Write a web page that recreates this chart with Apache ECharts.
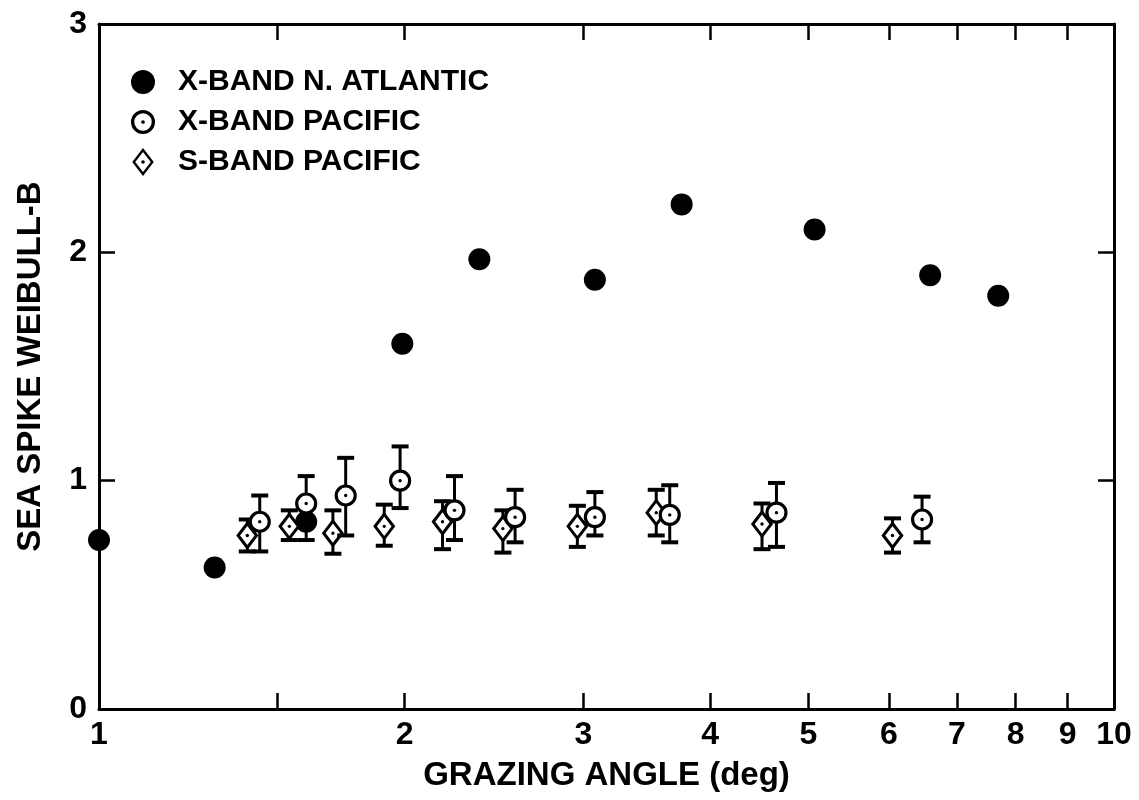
<!DOCTYPE html>
<html>
<head>
<meta charset="utf-8">
<script src="https://cdn.jsdelivr.net/npm/echarts@6/dist/echarts.min.js"></script>
<style>
html,body{margin:0;padding:0;background:#fff;}
#chart{width:1139px;height:800px;}
</style>
</head>
<body>
<div id="chart"></div>
<script>
// ---- data ----
const seriesNames = ['X-BAND N. ATLANTIC', 'X-BAND PACIFIC', 'S-BAND PACIFIC'];

const atlanticX = [1.0, 1.30, 1.60, 1.99, 2.37, 3.08, 3.75, 5.07, 6.59, 7.69];
const atlanticY = [0.74, 0.62, 0.82, 1.60, 1.97, 1.88, 2.21, 2.10, 1.90, 1.81];

const xPacX  = [1.44, 1.60, 1.75, 1.98, 2.24, 2.57, 3.08, 3.65, 4.65, 6.47];
const xPacY  = [0.82, 0.90, 0.935, 1.00, 0.87, 0.84, 0.84, 0.85, 0.86, 0.83];
const xPacHi = [0.935, 1.02, 1.10, 1.15, 1.02, 0.96, 0.95, 0.98, 0.99, 0.93];
const xPacLo = [0.69, 0.74, 0.76, 0.88, 0.74, 0.73, 0.76, 0.73, 0.71, 0.73];

const sPacX  = [1.40, 1.54, 1.70, 1.91, 2.18, 2.50, 2.96, 3.54, 4.50, 6.05];
const sPacY  = [0.76, 0.80, 0.77, 0.80, 0.82, 0.79, 0.80, 0.86, 0.81, 0.76];
const sPacHi = [0.83, 0.87, 0.87, 0.895, 0.91, 0.87, 0.89, 0.96, 0.90, 0.835];
const sPacLo = [0.69, 0.74, 0.68, 0.715, 0.70, 0.685, 0.71, 0.76, 0.70, 0.685];

const xTickValues  = [1.5, 2, 3, 4, 5, 6, 7, 8, 9];
const xLabelValues = [1, 2, 3, 4, 5, 6, 7, 8, 9, 10];
const xTitle = 'GRAZING ANGLE (deg)';
const yTitle = 'SEA SPIKE WEIBULL-B';

// ---- chart ----
const FONT = '"Liberation Sans", Arial, Helvetica, sans-serif';
const chart = echarts.init(document.getElementById('chart'), null, {renderer: 'canvas'});

const ringPath = 'path://M0,-11A11,11,0,1,1,0,11A11,11,0,1,1,0,-11Z' +
                 'M0,-8A8,8,0,1,0,0,8A8,8,0,1,0,0,-8Z' +
                 'M0,-1.7A1.7,1.7,0,1,1,0,1.7A1.7,1.7,0,1,1,0,-1.7Z';
const diamondPath = 'path://M0,-13L10,0L0,13L-10,0Z' +
                    'M0,-9.3L-7.2,0L0,9.3L7.2,0Z' +
                    'M0,-1.7A1.7,1.7,0,1,1,0,1.7A1.7,1.7,0,1,1,0,-1.7Z';

function errRender(kind) {
  return function (params, api) {
    const x = api.value(0), y = api.value(1), lo = api.value(2), hi = api.value(3);
    const c = api.coord([x, y]);
    const t = api.coord([x, hi]);
    const b = api.coord([x, lo]);
    const cap = 8.5;
    const children = [
      {type: 'line', shape: {x1: c[0], y1: t[1], x2: c[0], y2: b[1]}, style: {stroke: '#000', lineWidth: 3}},
      {type: 'line', shape: {x1: c[0] - cap, y1: t[1], x2: c[0] + cap, y2: t[1]}, style: {stroke: '#000', lineWidth: 4}},
      {type: 'line', shape: {x1: c[0] - cap, y1: b[1], x2: c[0] + cap, y2: b[1]}, style: {stroke: '#000', lineWidth: 4}}
    ];
    if (kind === 'circle') {
      children.push({type: 'circle', shape: {cx: c[0], cy: c[1], r: 9.5}, style: {fill: '#fff', stroke: '#000', lineWidth: 3.2}});
    } else {
      children.push({type: 'polygon', shape: {points: [[c[0], c[1] - 12], [c[0] + 9.2, c[1]], [c[0], c[1] + 12], [c[0] - 9.2, c[1]]]},
        style: {fill: '#fff', stroke: '#000', lineWidth: 3}});
    }
    children.push({type: 'circle', shape: {cx: c[0], cy: c[1], r: 1.7}, style: {fill: '#000'}});
    return {type: 'group', children: children};
  };
}

const xAxisBase = {
  type: 'log', logBase: 10, min: 1, max: 10,
  axisLine: {show: true, onZero: false, lineStyle: {color: '#000', width: 3}},
  axisTick: {show: true, inside: true, length: 16, customValues: xTickValues, lineStyle: {color: '#000', width: 2.5}},
  splitLine: {show: false},
  minorTick: {show: false},
  minorSplitLine: {show: false}
};
const yAxisBase = {
  type: 'value', min: 0, max: 3, interval: 1,
  axisLine: {show: true, onZero: false, lineStyle: {color: '#000', width: 3}},
  axisTick: {show: true, inside: true, length: 16, lineStyle: {color: '#000', width: 2.5}},
  splitLine: {show: false}
};

const option = {
  backgroundColor: '#fff',
  animation: false,
  textStyle: {fontFamily: FONT, color: '#000'},
  grid: {left: 99, right: 25, top: 24, bottom: 91, containLabel: false},
  legend: {
    orient: 'vertical', left: 126, top: 60,
    itemWidth: 24, itemHeight: 28, itemGap: 6,
    textStyle: {fontFamily: FONT, fontSize: 30, fontWeight: 'bold', color: '#000', padding: [0, 0, 0, 18], lineHeight: 34},
    selectedMode: false,
    data: [
      {name: seriesNames[0], icon: 'circle'},
      {name: seriesNames[1], icon: ringPath},
      {name: seriesNames[2], icon: diamondPath}
    ]
  },
  xAxis: [
    Object.assign({}, xAxisBase, {
      position: 'bottom',
      name: xTitle, nameLocation: 'middle', nameGap: 50,
      nameTextStyle: {fontFamily: FONT, fontSize: 33, fontWeight: 'bold', color: '#000'},
      axisLabel: {show: true, customValues: xLabelValues, fontFamily: FONT, fontSize: 32, fontWeight: 'bold', color: '#000', margin: 10,
        formatter: function (v) { return String(Math.round(v)); }}
    }),
    Object.assign({}, xAxisBase, {position: 'top', axisLabel: {show: false}})
  ],
  yAxis: [
    Object.assign({}, yAxisBase, {
      position: 'left',
      name: yTitle, nameLocation: 'middle', nameGap: 52, nameRotate: 90,
      nameTextStyle: {fontFamily: FONT, fontSize: 33, fontWeight: 'bold', color: '#000'},
      axisLabel: {show: true, fontFamily: FONT, fontSize: 32, fontWeight: 'bold', color: '#000', margin: 12}
    }),
    Object.assign({}, yAxisBase, {position: 'right', axisLabel: {show: false}})
  ],
  series: [
    {
      name: seriesNames[0], type: 'scatter', xAxisIndex: 0, yAxisIndex: 0,
      symbol: 'circle', symbolSize: 22, z: 2,
      itemStyle: {color: '#000', opacity: 1},
      data: atlanticX.map((x, i) => [x, atlanticY[i]])
    },
    {
      name: seriesNames[1], type: 'custom', xAxisIndex: 0, yAxisIndex: 0, z: 4,
      itemStyle: {color: '#000'},
      renderItem: errRender('circle'),
      encode: {x: 0, y: [1, 2, 3]},
      data: xPacX.map((x, i) => [x, xPacY[i], xPacLo[i], xPacHi[i]])
    },
    {
      name: seriesNames[2], type: 'custom', xAxisIndex: 0, yAxisIndex: 0, z: 3,
      itemStyle: {color: '#000'},
      renderItem: errRender('diamond'),
      encode: {x: 0, y: [1, 2, 3]},
      data: sPacX.map((x, i) => [x, sPacY[i], sPacLo[i], sPacHi[i]])
    }
  ]
};
chart.setOption(option);
</script>
</body>
</html>
